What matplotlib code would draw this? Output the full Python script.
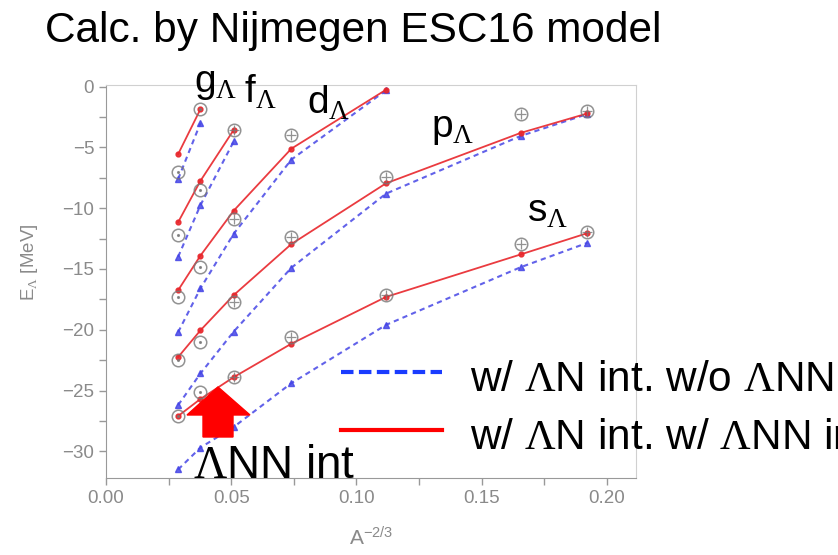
import numpy as np
import matplotlib.pyplot as plt
from matplotlib.lines import Line2D
from matplotlib.patches import Polygon
from matplotlib.ticker import MultipleLocator

plt.rcParams['font.family'] = ['Liberation Sans', 'DejaVu Sans']
plt.rcParams['mathtext.fontset'] = 'custom'
plt.rcParams['mathtext.rm'] = 'Liberation Serif'
plt.rcParams['mathtext.it'] = 'Liberation Sans:italic'
plt.rcParams['mathtext.sf'] = 'Liberation Sans'

# A^(-2/3) of the hypernuclei (heavy -> light)
x_A = [0.0288, 0.0377, 0.0510, 0.0740, 0.1118, 0.1656, 0.1922]

# Lambda single-particle energies [MeV]
# red = w/ LN + LNN, blue = w/ LN only, exp = data
s_red = [-27.1, -25.7, -23.9, -21.15, -17.3, -13.8, -12.05]
s_blue = [-31.5, -29.7, -28.0, -24.4, -19.6, -14.85, -12.85]
s_exp = [-27.1, -25.1, -23.9, -20.6, -17.1, -12.95, -11.95]

p_red = [-22.25, -20.05, -17.15, -12.95, -7.95, -3.8, -2.2]
p_blue = [-26.2, -23.6, -20.15, -14.9, -8.8, -4.05, -2.25]
p_exp = [-22.5, -21.0, -17.75, -12.35, -7.4, -2.25, -2.0]

d_red = [-16.75, -13.9, -10.2, -5.1, -0.25]
d_blue = [-20.2, -16.6, -12.1, -6.0, -0.3]
d_exp = [-17.3, -14.8, -10.9, -4.0]

f_red = [-11.15, -7.75, -3.55]
f_blue = [-14.0, -9.75, -4.5]
f_exp = [-12.2, -8.5, -3.6]

g_red = [-5.55, -1.85]
g_blue = [-7.6, -3.0]
g_exp = [-7.05, -1.85]

orbits = [(s_red, s_blue, s_exp), (p_red, p_blue, p_exp), (d_red, d_blue, d_exp),
          (f_red, f_blue, f_exp), (g_red, g_blue, g_exp)]

W, H = 838, 555


def px(x, y):
    return x / W, 1 - y / H


fig = plt.figure(figsize=(W / 100, H / 100), dpi=100)
ax = fig.add_axes([106 / W, 1 - 478 / H, 530 / W, (478 - 85) / H])

red = '#e8262b'
blue = '#4646e6'
gray = '#777777'

for r, b, e in orbits:
    ax.plot(x_A[:len(b)], b, color=blue, lw=1.5, ls=(0, (2.5, 2)), marker='^',
            ms=4, alpha=0.85, zorder=2)
    ax.plot(x_A[:len(r)], r, color=red, lw=1.3, marker='o', ms=3.5,
            alpha=0.9, zorder=3)
    ax.plot(x_A[:len(e)], e, ls='none', marker='o', ms=9, mfc='none',
            mec=gray, mew=1.1, alpha=0.8, zorder=4)
    ax.plot(x_A[:2], e[:2], ls='none', marker='.', ms=2.5, color=gray, alpha=0.8, zorder=4)
    ax.plot(x_A[2:len(e)], e[2:], ls='none', marker='+', ms=6.5, mew=0.9,
            color=gray, alpha=0.8, zorder=4)

ax.set_xlim(0, 0.2116)
ax.set_ylim(-32.2, 0.14)
ax.xaxis.set_major_locator(MultipleLocator(0.05))
ax.xaxis.set_minor_locator(MultipleLocator(0.025))
ax.yaxis.set_major_locator(MultipleLocator(5))
ax.yaxis.set_minor_locator(MultipleLocator(2.5))
ax.xaxis.set_major_formatter(plt.FormatStrFormatter('%.2f'))

for side in ['left', 'bottom']:
    ax.spines[side].set_color('#999999')
for side in ['top', 'right']:
    ax.spines[side].set_color('#d0d0d0')
ax.tick_params(which='both', direction='out', length=5, width=1, color='#999999',
               labelcolor='#8a8a8a', labelsize=13.5)
ax.set_xlabel(r'A$^{\mathsf{-2/3}}$', color='#8a8a8a', fontsize=15, labelpad=14)
ax.set_ylabel(r'E$_\Lambda$ [MeV]', color='#8a8a8a', fontsize=13.5)
ax.yaxis.set_label_coords(-0.125, 0.55)

# title and orbit labels
fig.text(*px(45, 42), 'Calc. by Nijmegen ESC16 model', fontsize=30.5, va='baseline')
labels = [('g', 194, 92), ('f', 244, 103), ('d', 307, 114), ('p', 431, 137), ('s', 527, 222)]
for name, lx, ly in labels:
    fig.text(*px(lx, ly), name + r'$_\Lambda$', fontsize=28, va='baseline')

# red arrow with label
arrow = Polygon([px(218, 387), px(250, 415), px(233, 415), px(233, 437),
                 px(203, 437), px(203, 415), px(187, 415)],
                closed=True, transform=fig.transFigure, color='#ff0000', zorder=10)
fig.add_artist(arrow)
fig.text(*px(193, 478), r'$\Lambda$NN int', fontsize=33, va='baseline', zorder=11)

# legend drawn by hand
fig.add_artist(Line2D([341 / W, 442 / W], [1 - 372 / H] * 2, color='#1a3cff', lw=3,
                      ls=(0, (3, 1.3))))
fig.add_artist(Line2D([341 / W, 442 / W], [1 - 430 / H] * 2, color='#ff0000', lw=3))
fig.text(*px(470, 391), r'w/ $\Lambda$N int. w/o $\Lambda$NN int.', fontsize=30.5, va='baseline')
fig.text(*px(470, 449), r'w/ $\Lambda$N int. w/ $\Lambda$NN int.', fontsize=30.5, va='baseline')

fig.savefig('out.png', dpi=100)
